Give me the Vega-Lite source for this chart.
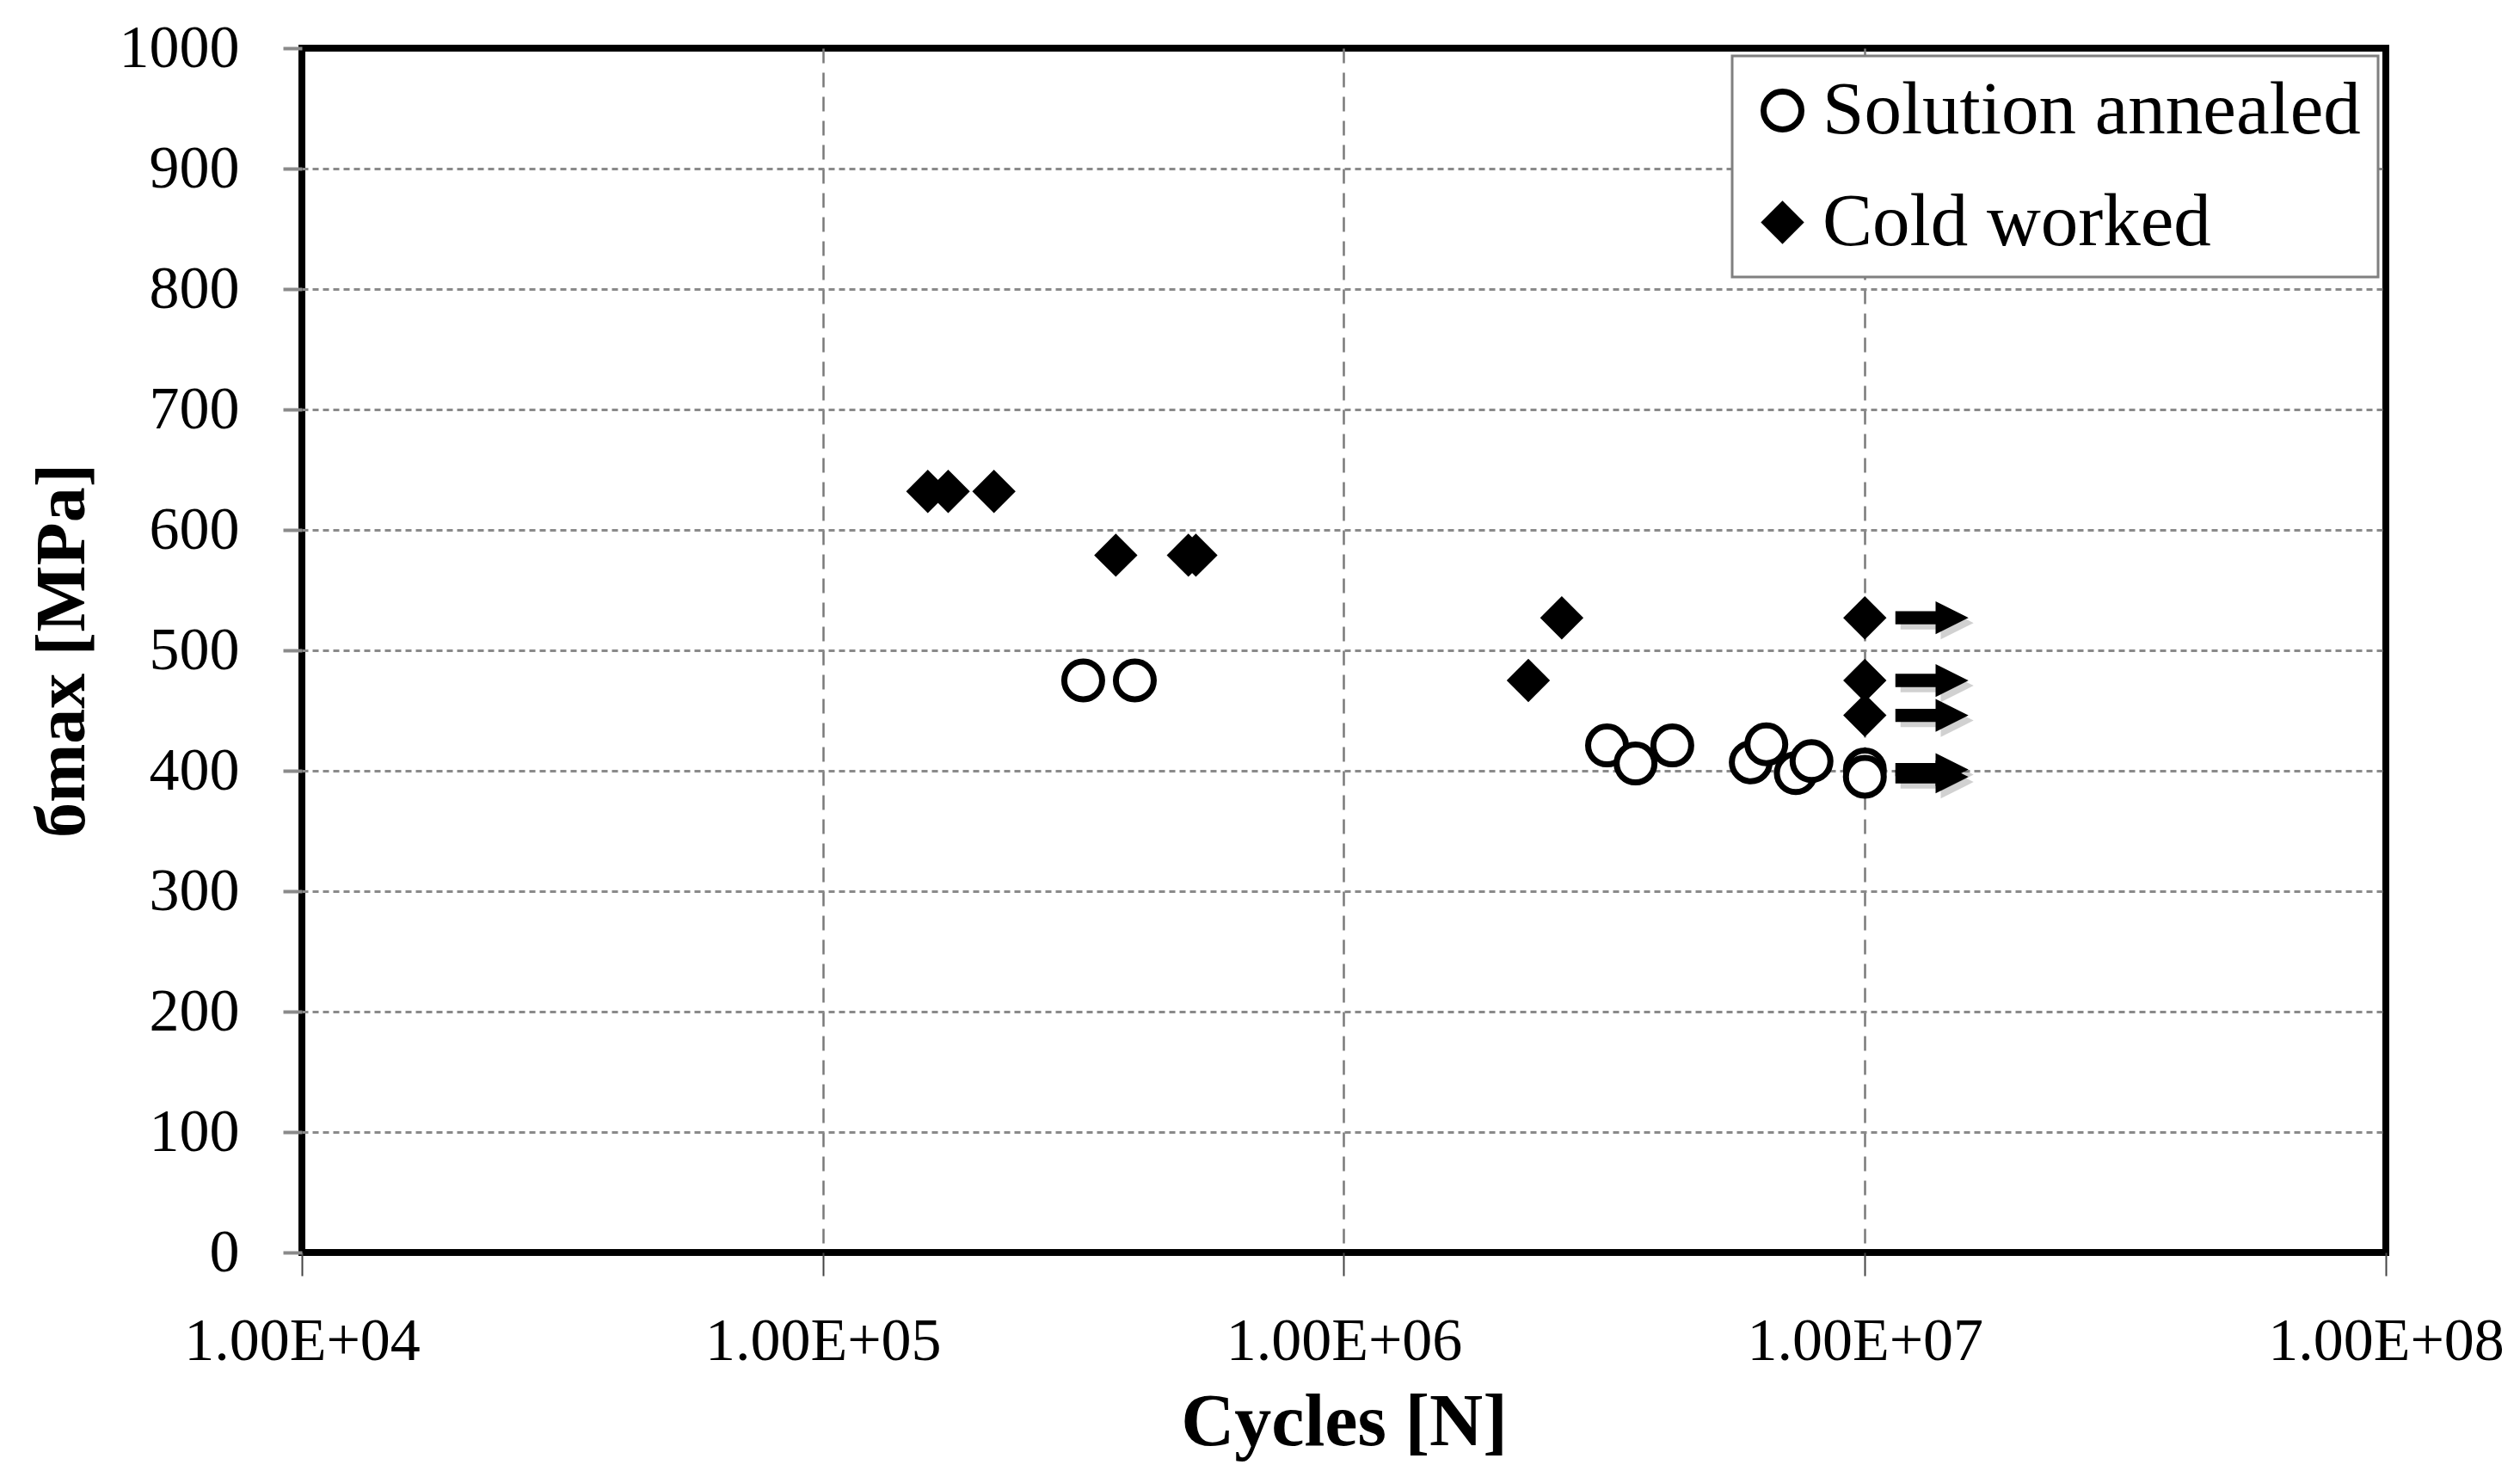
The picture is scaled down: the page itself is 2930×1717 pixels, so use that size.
{
  "$schema": "https://vega.github.io/schema/vega-lite/v6.json",
  "width": 2423,
  "height": 1400,
  "autosize": {"type": "none"},
  "padding": {"left": 351, "top": 56, "right": 156, "bottom": 261},
  "background": "white",
  "data": {
    "values": [
      {"series": "Cold worked", "cycles": 159000, "stress": 632, "runout": false},
      {"series": "Cold worked", "cycles": 174000, "stress": 632, "runout": false},
      {"series": "Cold worked", "cycles": 213000, "stress": 632, "runout": false},
      {"series": "Cold worked", "cycles": 365000, "stress": 579, "runout": false},
      {"series": "Cold worked", "cycles": 503000, "stress": 579, "runout": false},
      {"series": "Cold worked", "cycles": 520000, "stress": 579, "runout": false},
      {"series": "Cold worked", "cycles": 2260000, "stress": 475, "runout": false},
      {"series": "Cold worked", "cycles": 2620000, "stress": 527, "runout": false},
      {"series": "Cold worked", "cycles": 10000000, "stress": 527, "runout": true},
      {"series": "Cold worked", "cycles": 10000000, "stress": 475, "runout": true},
      {"series": "Cold worked", "cycles": 10000000, "stress": 446, "runout": true},
      {"series": "Solution annealed", "cycles": 316000, "stress": 475, "runout": false},
      {"series": "Solution annealed", "cycles": 397000, "stress": 475, "runout": false},
      {"series": "Solution annealed", "cycles": 3200000, "stress": 421, "runout": false},
      {"series": "Solution annealed", "cycles": 3630000, "stress": 406, "runout": false},
      {"series": "Solution annealed", "cycles": 4270000, "stress": 421, "runout": false},
      {"series": "Solution annealed", "cycles": 6040000, "stress": 407, "runout": false},
      {"series": "Solution annealed", "cycles": 6470000, "stress": 422, "runout": false},
      {"series": "Solution annealed", "cycles": 7370000, "stress": 398, "runout": false},
      {"series": "Solution annealed", "cycles": 7900000, "stress": 408, "runout": false},
      {"series": "Solution annealed", "cycles": 10000000, "stress": 401, "runout": true},
      {"series": "Solution annealed", "cycles": 10000000, "stress": 395, "runout": true}
    ]
  },
  "encoding": {
    "x": {
      "field": "cycles",
      "type": "quantitative",
      "scale": {"type": "log", "domain": [10000, 100000000], "nice": false},
      "axis": {
        "title": "Cycles [N]",
        "values": [10000, 100000, 1000000, 10000000, 100000000],
        "labelExpr": "'1.00E+0' + round(log(datum.value) / LN10)",
        "gridDash": [17, 11],
        "gridWidth": 2.5,
        "gridColor": "#7a7a7a",
        "gridOpacity": {"condition": {"test": "datum.value <= 10000 || datum.value >= 100000000", "value": 0}, "value": 1},
        "tickSize": 27,
        "tickWidth": 2,
        "tickColor": "#444444",
        "labelPadding": 42,
        "labelLimit": 0,
        "titlePadding": 17,
        "labelFlush": false
      }
    },
    "y": {
      "field": "stress",
      "type": "quantitative",
      "scale": {"domain": [0, 1000], "nice": false},
      "axis": {
        "title": "бmax [MPa]",
        "values": [0, 100, 200, 300, 400, 500, 600, 700, 800, 900, 1000],
        "format": "d",
        "gridDash": [7, 5],
        "gridWidth": 3,
        "gridColor": "#8a8a8a",
        "gridOpacity": {"condition": {"test": "datum.value <= 0 || datum.value >= 1000", "value": 0}, "value": 1},
        "tickSize": 22,
        "tickWidth": 4,
        "tickColor": "#8a8a8a",
        "labelPadding": 51,
        "labelLimit": 0,
        "titlePadding": 37
      }
    }
  },
  "layer": [
    {
      "transform": [{"filter": "datum.runout"}],
      "mark": {
        "type": "point",
        "shape": "M-1,-0.18L0.1,-0.18L0.1,-0.45L1,0L0.1,0.45L0.1,0.18L-1,0.18Z",
        "size": 7225,
        "filled": true,
        "fill": "#000000",
        "opacity": 0.18,
        "strokeWidth": 0,
        "xOffset": 84,
        "yOffset": 6
      },
      "encoding": {}
    },
    {
      "transform": [{"filter": "datum.runout"}],
      "mark": {
        "type": "point",
        "shape": "M-1,-0.18L0.1,-0.18L0.1,-0.45L1,0L0.1,0.45L0.1,0.18L-1,0.18Z",
        "size": 7225,
        "filled": true,
        "fill": "#000000",
        "opacity": 1,
        "strokeWidth": 0,
        "xOffset": 78
      },
      "encoding": {}
    },
    {
      "mark": {
        "type": "point",
        "size": 1936,
        "strokeWidth": 7,
        "opacity": 1
      },
      "encoding": {
        "shape": {
          "field": "series",
          "type": "nominal",
          "scale": {
            "domain": ["Solution annealed", "Cold worked"],
            "range": ["circle", "M0,-0.92L0.92,0L0,0.92L-0.92,0Z"]
          },
          "legend": {"title": null}
        },
        "fill": {
          "field": "series",
          "type": "nominal",
          "scale": {
            "domain": ["Solution annealed", "Cold worked"],
            "range": ["#ffffff", "#000000"]
          },
          "legend": {"title": null}
        },
        "stroke": {
          "field": "series",
          "type": "nominal",
          "scale": {
            "domain": ["Solution annealed", "Cold worked"],
            "range": ["#000000", "#000000"]
          },
          "legend": {"title": null}
        }
      }
    }
  ],
  "config": {
    "view": {"stroke": "#000000", "strokeWidth": 8},
    "axis": {
      "domain": false,
      "grid": true,
      "labelFont": "Liberation Serif",
      "labelFontSize": 70,
      "labelColor": "#000000",
      "titleFont": "Liberation Serif",
      "titleFontSize": 86,
      "titleFontWeight": "bold",
      "titleColor": "#000000"
    },
    "axisY": {"titleFontSize": 82},
    "legend": {
      "orient": "top-right",
      "offset": 9,
      "padding": 20,
      "strokeColor": "#808080",
      "strokeWidth": 3,
      "fillColor": "#ffffff",
      "labelFont": "Liberation Serif",
      "labelFontSize": 87,
      "labelColor": "#000000",
      "labelLimit": 0,
      "labelOffset": 3,
      "symbolOffset": -5,
      "symbolSize": 1936,
      "symbolStrokeWidth": 7,
      "symbolStrokeColor": "#000000",
      "rowPadding": 42
    }
  }
}
